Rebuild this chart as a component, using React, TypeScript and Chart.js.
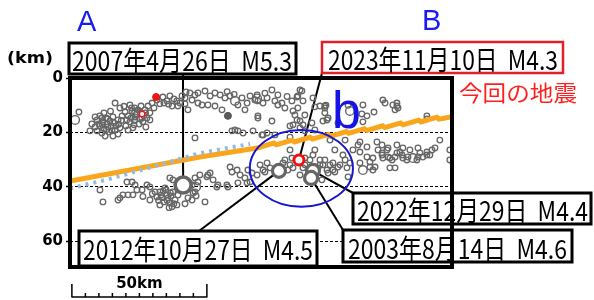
import React, { useEffect, useRef } from "react";
import { Chart, registerables } from "chart.js";
Chart.register(...registerables);

// ---- data (distance along section [km], depth [km]) ----
const yTicks = [0, 20, 40, 60];
const scaleBarKm = 50;
const scaleBarStepKm = 5;

const upperQuakes = [
  [3.3,12.5],[9.3,14.3],[7.4,19.4],[10.0,15.4],[11.1,13.9],[12.2,16.1],[13.3,14.7],[14.8,15.8],[15.9,14.3],[11.1,17.6],
  [12.6,18.7],[14.1,18.0],[15.6,19.4],[17.0,17.6],[13.0,21.3],[15.9,21.3],[10.0,19.4],[11.8,20.2],[17.8,15.4],[16.7,9.2],
  [18.5,11.0],[22.2,9.9],[20.4,12.5],[21.5,13.9],[23.0,12.1],[24.1,14.3],[25.2,11.7],[26.3,10.3],[27.8,11.7],[28.5,14.7],
  [29.6,12.8],[22.2,16.1],[23.7,17.2],[20.7,17.6],[25.6,16.9],[27.0,16.1],[18.5,18.3],[21.5,19.1],[30.4,9.2],[28.9,10.3],
  [33.3,9.5],[35.9,8.4],[37.0,6.6],[39.6,8.4],[40.0,10.3],[38.5,7.7],[42.6,7.3],[44.4,5.5],[46.3,6.2],[47.4,9.2],
  [46.3,22.0],[47.4,5.5],[50.0,4.8],[51.9,6.6],[53.7,5.5],[55.6,6.2],[57.4,7.3],[59.3,6.6],[63.7,7.3],[65.6,9.2],
  [66.7,6.6],[69.3,6.2],[69.6,8.4],[71.5,9.2],[73.0,7.3],[74.8,4.4],[75.9,8.4],[77.0,9.9],[78.5,9.2],[82.2,8.4],
  [84.4,6.6],[85.9,4.8],[86.3,8.4],[48.9,9.9],[51.1,9.9],[53.7,10.3],[56.3,11.7],[62.2,9.9],[64.8,11.7],[69.6,13.9],
  [74.8,15.8],[83.3,13.6],[84.1,15.4],[85.2,15.8],[60.0,19.4],[61.1,19.1],[62.2,19.4],[64.1,20.2],[67.8,19.4],[71.1,20.9],
  [73.0,20.2],[81.5,17.6],[82.6,17.2],[85.2,18.3],[87.0,19.4],[90.7,19.1],[89.6,16.5],[92.6,10.3],[82.6,12.1],[94.4,10.3],
  [94.4,12.8],[93.7,15.8],[95.2,15.4],[108.5,9.9],[110.0,13.9],[116.7,9.2],[121.1,9.2],[120.4,11.7],[121.1,10.3],[132.2,13.9],
  [68.5,8.1],[85.2,4.4],[84.1,7.0],[90.0,7.3],[90.7,10.6],[69.6,14.7],[71.5,20.9],[75.9,20.9],[81.5,21.7],[95.6,14.7],
  [99.3,16.5],[108.5,16.1],[115.9,8.1],[119.6,9.9],[42.6,9.5],[43.7,11.7],[41.5,6.6],[34.4,7.0],[32.2,8.1],[77.0,6.2],
  [79.6,11.0],[10.7,16.9],[11.8,14.7],[13.7,16.9],[15.2,17.6],[14.4,19.8],[16.7,19.1],[17.8,20.6],[9.3,18.0],[8.1,16.9],
  [12.6,12.8],[22.6,14.7],[24.8,13.2],[25.9,15.0],[27.4,13.9],[21.1,15.4],[23.3,18.3],[19.3,13.9],[28.1,18.0],[29.6,15.4],
  [31.1,11.0],[34.8,9.2],[40.7,9.2],[45.2,8.1],[37.8,10.3],[43.0,5.1],[87.0,13.6],[86.3,17.2],[84.4,11.0],[94.4,11.0],
  [108.1,13.2],[112.6,12.5],[121.5,11.0],[132.2,15.0],[94.8,10.0],[26.0,12.6],[24.0,11.0],[18.0,17.0],[14.0,15.0],[103.0,10.0],
  [12.0,17.2],[13.5,19.0],[16.2,16.4],[19.0,15.6],[22.8,11.0],[23.9,15.6],[26.6,14.8],[20.0,10.4],[28.0,12.8],[15.0,12.2],
  [36.5,9.6],[58.2,5.0],[60.8,6.0],[72.2,5.6],[80.4,6.8],
];

const lowerQuakes = [
  [11.1,41.1],[12.2,45.5],[18.5,44.0],[19.6,42.9],[21.5,42.9],[23.3,42.9],[21.1,38.2],[23.0,38.2],[24.1,39.3],[24.8,41.1],
  [28.5,39.3],[29.6,40.0],[29.6,44.8],[31.5,41.8],[32.2,43.7],[33.3,41.8],[34.1,44.0],[35.2,40.4],[35.9,42.9],[36.3,44.0],
  [37.0,45.9],[37.8,47.3],[38.1,41.8],[38.9,44.8],[37.0,36.7],[38.1,37.4],[43.7,44.0],[46.3,41.8],[46.3,36.7],[47.4,38.2],
  [48.1,35.6],[50.7,36.3],[51.9,34.9],[53.0,37.4],[54.8,39.3],[50.0,45.5],[45.6,42.2],[43.3,40.0],[45.2,44.8],[59.3,32.7],
  [60.0,34.5],[61.9,33.8],[63.0,35.6],[65.9,33.8],[66.7,38.2],[65.6,38.5],[70.4,31.9],[71.5,33.8],[73.0,31.2],[74.1,33.0],
  [69.3,35.6],[62.2,38.5],[58.1,39.3],[54.4,40.0],[51.1,35.6],[58.5,40.0],[64.8,36.7],[67.4,34.9],[72.2,34.5],[78.9,31.2],
  [82.2,29.4],[82.6,33.0],[80.7,33.8],[81.5,31.9],[88.9,30.1],[90.0,28.3],[17.8,44.8],[26.7,41.1],[33.3,46.6],[40.7,40.4],
  [45.2,39.3],[44.1,38.5],[46.7,43.3],[42.6,46.2],[34.8,45.5],[36.7,47.6],[35.6,41.1],[37.4,43.3],[39.6,46.6],[33.7,43.0],
  [86.3,33.0],[87.8,37.4],[91.9,33.0],[93.3,37.4],[87.0,29.4],[79.6,30.1],[81.5,26.4],[87.0,31.9],[85.2,35.6],[92.6,31.9],
  [93.7,31.9],[95.2,33.8],[96.3,31.9],[97.4,31.2],[98.1,34.5],[99.3,32.7],[95.6,34.9],[102.6,33.0],[103.0,36.3],[101.1,28.3],
  [104.8,26.4],[107.4,27.2],[111.1,30.8],[112.2,29.4],[113.0,32.7],[114.1,26.4],[115.6,27.5],[115.9,29.4],[117.4,26.4],[117.8,29.0],
  [119.3,30.1],[120.4,29.0],[120.4,33.0],[122.2,27.2],[123.3,29.4],[125.2,29.0],[125.9,26.4],[128.5,30.1],[129.6,27.5],[130.7,29.0],
  [132.2,27.2],[134.1,26.4],[140.7,30.1],[140.7,26.4],[107.4,23.5],[106.7,24.6],[110.0,25.3],[113.7,23.5],[115.6,24.6],[117.8,25.7],
  [121.1,24.6],[123.3,25.7],[128.9,25.7],[133.3,28.3],[135.2,25.7],[107.4,31.2],[110.0,29.0],[123.0,28.3],[137.0,22.8],[101.9,22.8],
  [96.3,22.8],[90.7,26.4],[92.6,30.1],[98.1,26.4],[101.9,30.1],[111.1,32.7],[115.6,28.3],[118.5,29.4],[121.1,27.5],[124.8,30.1],
  [128.9,29.0],[132.2,28.3],[118.5,33.0],[112.2,33.8],[94.4,30.1],[97.4,33.8],[100.0,31.9],[103.7,31.2],
  [36.0,45.0],[37.2,42.2],[34.5,41.5],[38.5,46.2],[32.8,45.0],[30.5,42.5],[27.0,43.5],[40.0,43.0],
];

const largeQuakes = [[1.9,15.4],[61.1,8.4],[103.7,12.1],[127.0,29.4],[108.5,33.8],[46.7,40.0],[24.5,12.8],[69.3,7.5]];
const filledQuakes = [[58.5,13.9]];
const pastRedQuakes = [[31.9,7.0]];
const redSmallQuakes = [[26.7,13.2]];

// upper surface of the subducting plate (orange)
const plateUpper = [
  [0,37.8],[22.2,33.8],[48.1,29.0],[69.3,25.7],
  [76.0,23.75],[76.0,24.65],[82.7,22.7],[82.7,23.6],[89.4,21.65],[89.4,22.55],[96.1,20.6],[96.1,21.5],
  [102.8,19.55],[102.8,20.45],[109.5,18.5],[109.5,19.4],[116.2,17.45],[116.2,18.35],[122.9,16.4],[122.9,17.3],
  [129.6,15.35],[129.6,16.25],[136.3,14.3],[136.3,15.2],[141.5,14.2],
];
// model plate boundary (light-blue dotted)
const plateModel = [[0,40.6],[14.8,37.0],[29.6,32.9],[48.1,27.6],[66.7,24.2]];

const eventNames = ["2007年4月26日  M5.3", "2012年10月27日  M4.5", "2022年12月29日  M4.4", "2003年8月14日  M4.6", "2023年11月10日  M4.3"];
const eventDist = [41.9, 77.4, 90.0, 89.3, 84.8];
const eventDepth = [39.3, 34.1, 34.1, 36.7, 30.1];

const ellipseCenter = [85.7, 33.2];
const ellipseRadii = [19.1, 14.1];

// ---- layout (pixels) ----
const BOXES = [
  { x: 69, y: 43, w: 227, h: 31, color: "#000", lw: 3, tx: 72, tw: 220, base: 71, ax: 183, ay: 74 },
  { x: 79, y: 231, w: 238, h: 35, color: "#000", lw: 3, tx: 83, tw: 230, base: 260, ax: 199, ay: 231 },
  { x: 353, y: 193, w: 238, h: 31, color: "#000", lw: 3, tx: 357, tw: 231, base: 221, ax: 353, ay: 193 },
  { x: 343, y: 230, w: 229, h: 32, color: "#000", lw: 3, tx: 348, tw: 219, base: 259, ax: 343, ay: 230 },
  { x: 322, y: 42, w: 241, h: 31, color: "#e3202a", lw: 2.5, tx: 328, tw: 230, base: 70, ax: 322, ay: 73 },
];

const CJK = '"Noto Sans CJK JP", "Noto Sans", sans-serif';

function fitText(ctx: CanvasRenderingContext2D, text: string, left: number, base: number, width: number, font: string, color: string) {
  ctx.save();
  ctx.font = font;
  ctx.fillStyle = color;
  ctx.textAlign = "left";
  ctx.textBaseline = "alphabetic";
  const w = ctx.measureText(text).width;
  ctx.translate(left, base);
  ctx.scale(width / w, 1);
  ctx.fillText(text, 0, 0);
  ctx.restore();
}

const toXY = (arr: number[][]) => arr.map(([x, y]) => ({ x, y }));

const overlay = {
  id: "overlay",
  beforeDatasetsDraw(chart: any) {
    const { ctx } = chart;
    const xs = chart.scales.x, ys = chart.scales.y;
    ctx.save();
    ctx.strokeStyle = "#000";
    ctx.lineWidth = 2;
    BOXES.forEach((b, i) => {
      ctx.beginPath();
      ctx.moveTo(b.ax, b.ay);
      ctx.lineTo(xs.getPixelForValue(eventDist[i]), ys.getPixelForValue(eventDepth[i]));
      ctx.stroke();
    });
    ctx.restore();
  },
  afterDatasetsDraw(chart: any) {
    const { ctx } = chart;
    const xs = chart.scales.x, ys = chart.scales.y;
    const cx = xs.getPixelForValue(ellipseCenter[0]);
    const cy = ys.getPixelForValue(ellipseCenter[1]);
    const rx = xs.getPixelForValue(ellipseCenter[0] + ellipseRadii[0]) - cx;
    const ry = ys.getPixelForValue(ellipseCenter[1] + ellipseRadii[1]) - cy;
    ctx.save();
    ctx.strokeStyle = "#1717d0";
    ctx.lineWidth = 2;
    ctx.beginPath();
    ctx.ellipse(cx, cy, rx, ry, 0, 0, Math.PI * 2);
    ctx.stroke();
    ctx.fillStyle = "#1414e6";
    ctx.font = '52px "Liberation Sans", Arial, sans-serif';
    ctx.textBaseline = "alphabetic";
    ctx.fillText("b", 332, 128);
    ctx.restore();
  },
  afterDraw(chart: any) {
    const { ctx, chartArea } = chart;
    const xs = chart.scales.x;
    ctx.save();
    // label boxes
    BOXES.forEach((b, i) => {
      ctx.fillStyle = "#fff";
      ctx.fillRect(b.x, b.y, b.w, b.h);
      ctx.strokeStyle = b.color;
      ctx.lineWidth = b.lw;
      ctx.strokeRect(b.x, b.y, b.w, b.h);
      fitText(ctx, eventNames[i], b.tx, b.base, b.tw, `27px ${CJK}`, "#000");
    });
    // frame
    ctx.strokeStyle = "#000";
    ctx.lineWidth = 4;
    ctx.strokeRect(chartArea.left, chartArea.top, chartArea.right - chartArea.left, chartArea.bottom - chartArea.top);
    // texts
    fitText(ctx, "今回の地震", 459, 101, 118, `22px ${CJK}`, "#ff1f1f");
    fitText(ctx, "(km)", 7, 63, 46, 'bold 15px "DejaVu Sans", sans-serif', "#000");
    ctx.fillStyle = "#1a1af5";
    ctx.font = '29px "Liberation Sans", Arial, sans-serif';
    ctx.textBaseline = "alphabetic";
    ctx.textAlign = "left";
    ctx.fillText("A", 77, 31);
    ctx.fillText("B", 422, 30);
    // scale bar
    const x0 = xs.getPixelForValue(0.7);
    const x1 = xs.getPixelForValue(0.7 + scaleBarKm);
    ctx.strokeStyle = "#000";
    ctx.lineWidth = 1.5;
    ctx.beginPath();
    ctx.moveTo(x0, 297);
    ctx.lineTo(x1, 297);
    for (let k = 0; k <= scaleBarKm; k += scaleBarStepKm) {
      const px = xs.getPixelForValue(0.7 + k);
      const top = k === 0 || k === scaleBarKm ? 284 : 293;
      ctx.moveTo(px, top);
      ctx.lineTo(px, 297.5);
    }
    ctx.stroke();
    ctx.fillStyle = "#000";
    ctx.font = 'bold 15px "DejaVu Sans", sans-serif';
    ctx.textAlign = "center";
    ctx.fillText(`${scaleBarKm}km`, (x0 + x1) / 2, 288);
    ctx.restore();
  },
};

export default function App() {
  const ref = useRef<HTMLCanvasElement>(null);
  useEffect(() => {
    if (!ref.current) return;
    const gray = "#666666";
    const chart = new Chart(ref.current, {
      type: "scatter",
      data: {
        datasets: [
          {
            data: [{ x: eventDist[0], y: eventDepth[0] }],
            pointRadius: 8, borderWidth: 3.6, borderColor: gray, backgroundColor: "#fff", order: 1,
          },
          {
            data: eventDist.slice(1, 4).map((x, i) => ({ x, y: eventDepth[i + 1] })),
            pointRadius: 6.5, borderWidth: 3.2, borderColor: gray, backgroundColor: "#fff", order: 1,
          },
          {
            data: [{ x: eventDist[4], y: eventDepth[4] }],
            pointRadius: 5, borderWidth: 3, borderColor: "#f01010", backgroundColor: "#fff", order: 0,
          },
          {
            data: toXY(plateModel), showLine: true, pointRadius: 0, borderColor: "#8fbbe8", borderWidth: 4,
            borderDash: [3, 5], order: 4,
          },
          {
            data: toXY(plateUpper), showLine: true, pointRadius: 0, borderColor: "#f9a61c", borderWidth: 5,
            borderJoinStyle: "bevel", order: 5,
          },
          {
            data: toXY(redSmallQuakes), pointRadius: 2.8, borderWidth: 1.5, borderColor: "#f01818", backgroundColor: "#fff", order: 7,
          },
          {
            data: toXY(pastRedQuakes), pointRadius: 3.5, borderWidth: 1, borderColor: "#e01010", backgroundColor: "#f01818", order: 7,
          },
          {
            data: toXY(filledQuakes), pointRadius: 3.5, borderWidth: 1, borderColor: "#555", backgroundColor: "#5a5a5a", order: 8,
          },
          {
            data: toXY(largeQuakes), pointRadius: 4.3, borderWidth: 1.4, borderColor: gray, backgroundColor: "rgba(0,0,0,0)", order: 9,
          },
          {
            data: toXY(upperQuakes), pointRadius: 2.8, borderWidth: 1.3, borderColor: gray, backgroundColor: "rgba(0,0,0,0)", order: 10,
          },
          {
            data: toXY(lowerQuakes), pointRadius: 2.8, borderWidth: 1.3, borderColor: gray, backgroundColor: "rgba(0,0,0,0)", order: 10,
          },
        ],
      },
      options: {
        animation: false,
        responsive: false,
        devicePixelRatio: 1,
        events: [],
        layout: { padding: { left: 0, top: 78, right: 142, bottom: 33 } },
        plugins: { legend: { display: false }, tooltip: { enabled: false } },
        scales: {
          x: { type: "linear", min: 0, max: 141.5, display: false },
          y: {
            type: "linear",
            reverse: true,
            min: 0,
            max: 69.4,
            afterFit: (s: any) => { s.width = 70; },
            afterBuildTicks: (s: any) => { s.ticks = yTicks.map((v) => ({ value: v })); },
            ticks: { color: "#000", padding: 3, font: { family: "DejaVu Sans", weight: "bold", size: 15 } },
            grid: { color: "#000", lineWidth: 1, drawTicks: true, tickLength: 4, tickColor: "#000", tickWidth: 1.5 },
            border: { display: false, dash: [3, 2] },
          },
        },
      },
      plugins: [overlay],
    } as any);
    return () => chart.destroy();
  }, []);
  return (
    <div style={{ position: "fixed", left: 0, top: 0, width: 594, height: 300, background: "#fff" }}>
      <canvas ref={ref} width={594} height={300} style={{ display: "block", width: 594, height: 300 }} />
    </div>
  );
}
